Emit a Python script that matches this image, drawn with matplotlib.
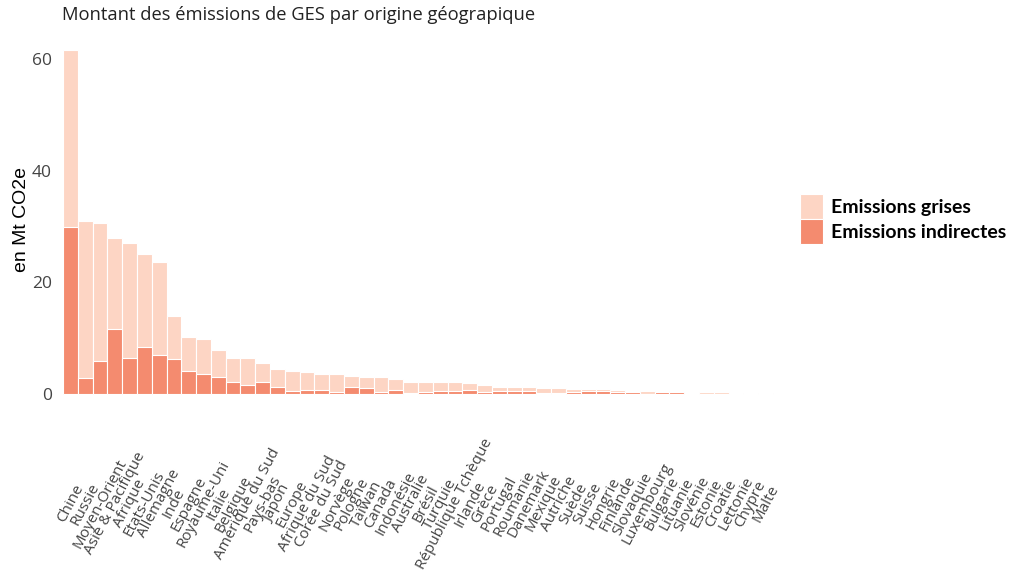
import matplotlib.pyplot as plt

# data (Mt CO2e)
pays = ['Chine', 'Russie', 'Moyen-Orient', 'Asie & Pacifique', 'Afrique', 'Etats-Unis',
        'Allemagne', 'Inde', 'Espagne', 'Royaume-Uni', 'Italie', 'Belgique',
        'Amérique du Sud', 'Pays-bas', 'Japon', 'Europe', 'Afrique du Sud', 'Corée du Sud',
        'Norvège', 'Pologne', 'Taïwan', 'Canada', 'Indonésie', 'Australie', 'Brésil',
        'Turquie', 'République Tchèque', 'Irlande', 'Grèce', 'Portugal', 'Roumanie',
        'Danemark', 'Mexique', 'Autriche', 'Suède', 'Suisse', 'Hongrie', 'Finlande',
        'Slovaquie', 'Luxembourg', 'Bulgarie', 'Lituanie', 'Slovénie', 'Estonie',
        'Croatie', 'Lettonie', 'Chypre', 'Malte']

total = [61.7, 31.0, 30.7, 27.9, 27.0, 25.1, 23.6, 14.0, 10.2, 9.8, 7.9, 6.5,
         6.5, 5.5, 4.5, 4.2, 4.0, 3.6, 3.6, 3.2, 3.1, 3.1, 2.7, 2.2, 2.2,
         2.2, 2.2, 2.0, 1.7, 1.3, 1.25, 1.2, 1.1, 1.0, 0.85, 0.85, 0.85, 0.7,
         0.6, 0.6, 0.5, 0.4, 0.35, 0.3, 0.3, 0.25, 0.2, 0.1]

indirectes = [29.9, 2.8, 5.9, 11.7, 6.5, 8.4, 7.0, 6.3, 4.1, 3.6, 3.1, 2.2,
              1.7, 2.2, 1.2, 0.6, 0.8, 0.8, 0.4, 1.3, 1.1, 0.4, 0.8, 0.2, 0.4,
              0.6, 0.6, 0.8, 0.4, 0.6, 0.6, 0.55, 0.2, 0.2, 0.3, 0.5, 0.5, 0.3,
              0.35, 0.05, 0.35, 0.3, 0.1, 0.05, 0.05, 0.05, 0.03, 0.02]

clair = '#fdd5c4'
fonce = '#f48b6f'

fig = plt.figure(figsize=(10.12, 5.83), dpi=100)
ax = fig.add_axes([60 / 1012, 0.3194, 716 / 1012, 0.6077])

x = range(len(pays))
ax.bar(x, total, width=1.0, color=clair, edgecolor='white', linewidth=0.8,
       label='Emissions grises')
ax.bar(x, indirectes, width=1.0, color=fonce, edgecolor='white', linewidth=0.8,
       label='Emissions indirectes')

ax.set_xlim(-0.7, len(pays) - 0.3)
ax.set_ylim(-0.5, 63)
ax.set_yticks([0, 20, 40, 60])
ax.set_xticks(list(x))
# labels centred under each bar, as in the reference
ax.set_xticklabels(pays, rotation=62, ha='center', va='center', rotation_mode='anchor',
                   fontsize=11, family='Open Sans', color='#444444')
ax.tick_params(axis='x', length=0, pad=77)
ax.tick_params(axis='y', length=0, pad=6, labelsize=12.5, labelcolor='#444444')
for lab in ax.get_yticklabels():
    lab.set_family('Open Sans')
for s in ax.spines.values():
    s.set_visible(False)

ax.set_ylabel('en Mt CO2e', fontsize=14, family='Liberation Sans', color='black', labelpad=1)

fig.text(62 / 1012, 1 - 15 / 583, 'Montant des émissions de GES par origine géograpique',
         fontsize=13.2, family='Open Sans', color='#222222', va='center', ha='left')

leg = ax.legend(loc='center left', bbox_to_anchor=(1.0335, 0.502), frameon=False,
                prop={'family': 'Lato', 'weight': 'bold', 'size': 14},
                handlelength=1.18, handleheight=1.6, handletextpad=0.4, labelspacing=0.0,
                borderaxespad=0, borderpad=0)

plt.savefig('out.png', dpi=100)
